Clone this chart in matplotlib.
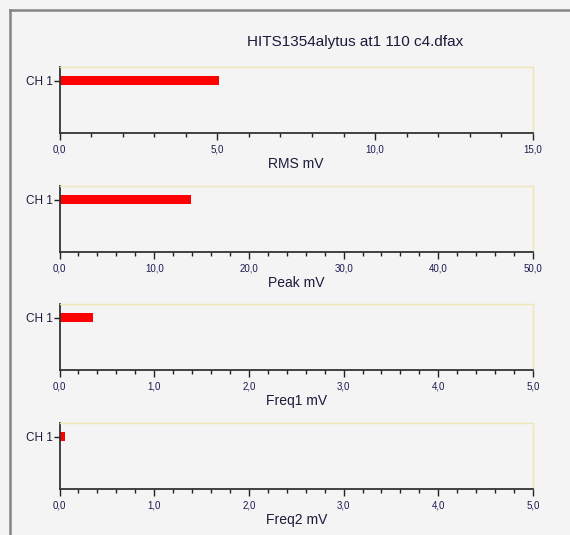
import matplotlib
matplotlib.use("Agg")
import matplotlib.pyplot as plt
from matplotlib.ticker import MultipleLocator, FuncFormatter
from matplotlib.lines import Line2D

# data
title = "HITS1354alytus at1 110 c4.dfax"
channels = ["CH 1"]
rms_values = [5.05]
peak_values = [13.85]
freq1_values = [0.35]
freq2_values = [0.06]

panel_labels = ["RMS mV", "Peak mV", "Freq1 mV", "Freq2 mV"]
panel_values = [rms_values, peak_values, freq1_values, freq2_values]
panel_xmax = [15.0, 50.0, 5.0, 5.0]
panel_major = [5.0, 10.0, 1.0, 1.0]
panel_minor = [1.0, 2.0, 0.2, 0.2]

bg = "#f4f4f4"
W, H = 570, 535
fig = plt.figure(figsize=(W / 100, H / 100), dpi=100, facecolor=bg)
plt.rcParams['font.family'] = ['Liberation Sans', 'DejaVu Sans']

# window frame (top and left edges)
fig.add_artist(Line2D([10 / W, 1], [1 - 10 / H, 1 - 10 / H], color="#858585", lw=1.8))
fig.add_artist(Line2D([10 / W, 10 / W], [0, 1 - 10 / H], color="#858585", lw=1.8))

fig.text(355 / W, 1 - 42 / H, title, ha="center", va="center", fontsize=11, color="#1a1a3a")

left, right = 59.5, 533
tops = [67, 186, 304, 423]
ph = 66

comma = FuncFormatter(lambda v, p: ("%.1f" % v).replace(".", ","))

for top, label, vals, xmax, maj, mnr in zip(tops, panel_labels, panel_values,
                                            panel_xmax, panel_major, panel_minor):
    ax = fig.add_axes([left / W, 1 - (top + ph) / H, (right - left) / W, ph / H])
    ax.set_facecolor(bg)
    ax.barh(range(len(channels)), vals, height=0.72, color="#ff0000", align="center")
    ax.set_xlim(0, xmax)
    ax.set_ylim(-4.0, 1.05)
    ax.set_yticks(range(len(channels)))
    ax.set_yticklabels(channels, fontsize=8.5, color="#1a1a3a")
    ax.xaxis.set_major_locator(MultipleLocator(maj))
    ax.xaxis.set_minor_locator(MultipleLocator(mnr))
    ax.xaxis.set_major_formatter(comma)
    ax.tick_params(axis="x", which="major", length=5, width=1, color="#222222",
                   labelsize=7, labelcolor="#1a1a50", pad=3)
    ax.tick_params(axis="x", which="minor", length=3, width=1, color="#222222")
    ax.tick_params(axis="y", length=4, width=1, color="#222222", pad=1)
    for s in ("top", "right"):
        ax.spines[s].set_color("#efe6b4")
        ax.spines[s].set_linewidth(1)
    for s in ("left", "bottom"):
        ax.spines[s].set_color("#333333")
        ax.spines[s].set_linewidth(1.3)
    ax.set_xlabel(label, fontsize=10, color="#1a1a3a", labelpad=2)

fig.savefig("out.png", dpi=100, facecolor=bg)
